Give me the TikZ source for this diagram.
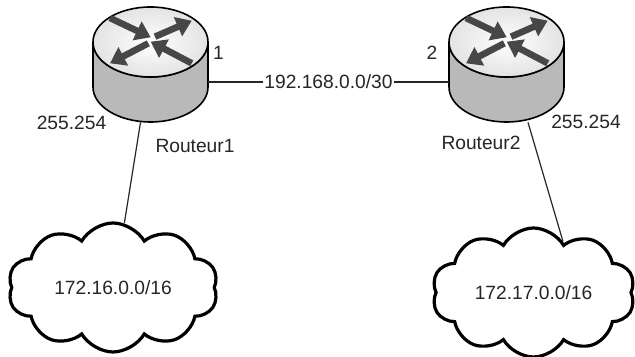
\documentclass[tikz,border=0pt]{standalone}
\usepackage{fontspec}
\setmainfont{Liberation Sans}
\usetikzlibrary{shapes.symbols,arrows.meta}
\tikzset{
  routeur/.style={inner sep=0pt,minimum width=57.5pt,minimum height=57.5pt},
  cote/.style={line width=0.8pt,left color=gray!55,middle color=white,right color=gray!55},
  dessus/.style={line width=0.8pt,inner color=white,outer color=gray!22},
  fleche/.style={line width=3.3pt,black!72,-{Triangle[width=10pt,length=7.5pt]}},
  lien/.style={line width=0.6pt,black!85},
  txt/.style={inner sep=0.5pt,text=black!85,font=\fontsize{9.6}{11}\selectfont},
  nuage/.style={cloud,cloud puffs=10,cloud puff arc=120,cloud ignores aspect,draw,line width=1.6pt,
    inner sep=0pt,minimum width=105pt,minimum height=64.5pt,txt}
}
\newcommand{\routeur}[1]{%
\begin{scope}[shift={(#1)}]
\draw[cote] (-57.5,22.5) -- (-57.5,-22.5)
  arc[start angle=180,end angle=360,x radius=57.5,y radius=35] -- (57.5,22.5)
  arc[start angle=0,end angle=-180,x radius=57.5,y radius=35] -- cycle;
\draw[dessus] (0,22.5) ellipse[x radius=57.5,y radius=35];
\draw[fleche] (-40.5,46.5) -- (0.2,27.2);
\draw[fleche] (4.5,27.8) -- (41.2,43.8);
\draw[fleche] (-2.2,21.2) -- (-40.5,1.2);
\draw[fleche] (41.2,1.2) -- (0.2,22.8);
\end{scope}}
\begin{document}
\begin{tikzpicture}[x=0.5pt,y=0.5pt]
\useasboundingbox (0,0) rectangle (635,357);
\node[routeur] (r1) at (150.5,292.5) {};
\node[routeur] (r2) at (506.5,292.5) {};
\routeur{r1}
\routeur{r2}
\node[nuage] (c1) at (113,69.5) {172.16.0.0/16};
\node[nuage,minimum width=101.5pt] (c2) at (533.5,64.5) {172.17.0.0/16};
\draw[lien] ([yshift=-8.75pt]r1.east) -- node[txt,fill=white] (reseau) {192.168.0.0/30} ([yshift=-8.75pt]r2.west);
\draw[lien] ([xshift=-5pt]r1.south) -- (c1.80);
\draw[lien] ([xshift=10.75pt]r2.south) -- (c2.60);
\node[txt] (i1) at (218.5,304.5) {1};
\node[txt] (i2) at (432,304.5) {2};
\node[txt] (m1) at (71.5,234.5) {255.254};
\node[txt] (m2) at (586,235.5) {255.254};
\node[txt] (n1) at (195,211) {Routeur1};
\node[txt] (n2) at (481,214.5) {Routeur2};
\end{tikzpicture}
\end{document}
